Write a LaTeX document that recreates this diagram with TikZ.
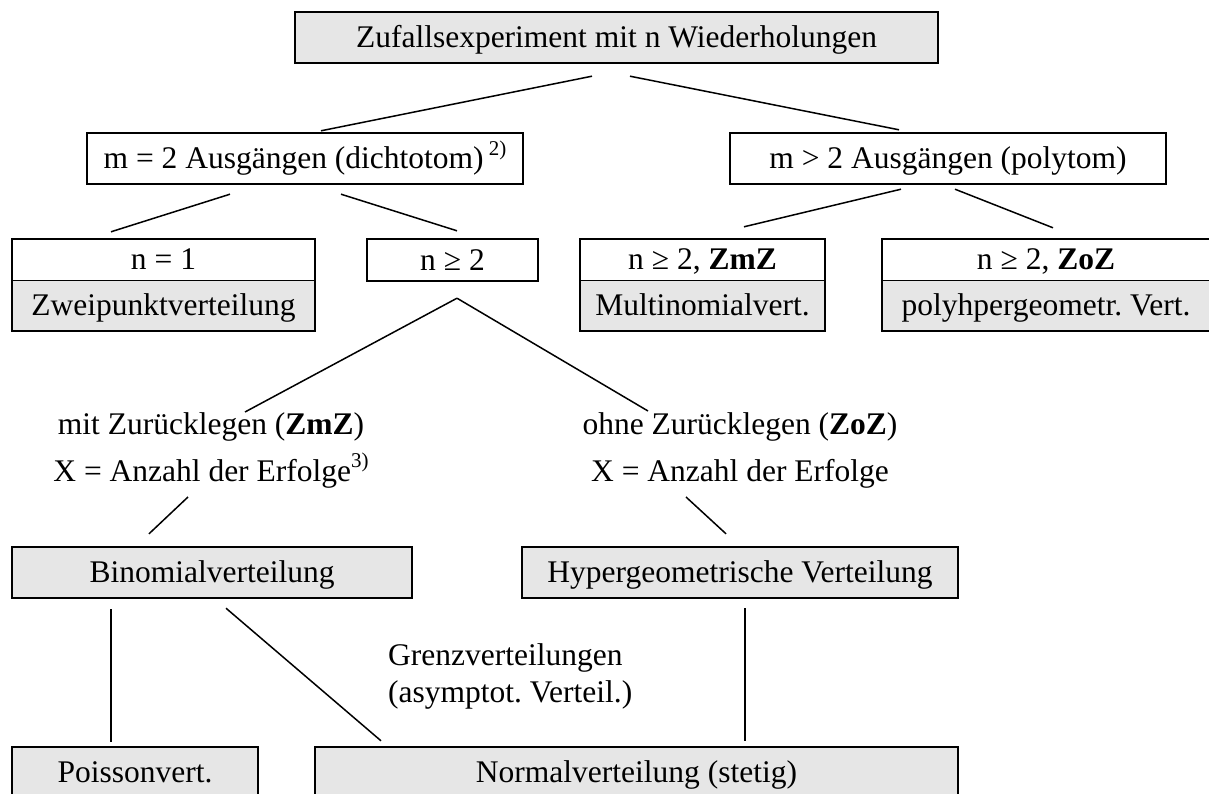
\documentclass[tikz,border=0pt]{standalone}
\usepackage{fontspec}
\setmainfont{Liberation Serif}
\frenchspacing
\definecolor{boxgray}{RGB}{230,230,230}
\tikzset{
  txt/.style={font=\fontsize{31.5}{37}\selectfont, inner sep=0pt, text height=20.9pt, text depth=0pt},
  boxw/.style={txt, draw=black, line width=2.4pt, fill=white, minimum height=#1},
  boxw/.default=51pt,
  boxg/.style={txt, draw=black, line width=2.4pt, fill=boxgray, minimum height=#1},
  boxg/.default=51pt,
  partw/.style={txt, fill=white, minimum height=41pt},
  partg/.style={txt, fill=boxgray, minimum height=51pt},
  frame/.style={draw=black, line width=2.4pt},
  divider/.style={draw=black, line width=1.3pt},
  conn/.style={draw=black, line width=1.5pt},
  label/.style={font=\fontsize{31.5}{37}\selectfont, inner sep=0pt, align=center}
}
\newcommand{\supx}[1]{\raisebox{0.42em}{\fontsize{21}{24}\selectfont #1}}
\begin{document}
\begin{tikzpicture}[x=1pt,y=-1pt]
\useasboundingbox (0,0) rectangle (1209,794);
\fill[white] (0,0) rectangle (1209,794);
\clip (0,0) rectangle (1209,794);

% level 0
\node[boxg, minimum width=643pt] (top) at (616.5,37.5) {Zufallsexperiment mit n Wiederholungen};

% level 1
\node[boxw, minimum width=436pt] (m2) at (305,158.5) {m = 2 Ausgängen (dichtotom)\,\supx{2)}};
\node[boxw, minimum width=436pt] (mg) at (948,158.5) {m > 2 Ausgängen (polytom)};

% level 2
\node[partw, minimum width=303pt] (n1a) at (163.5,259.5) {n = 1};
\node[partg, minimum width=303pt] (n1b) at (163.5,305.5) {Zweipunktverteilung};
\draw[frame] (n1a.north west) rectangle (n1b.south east);
\draw[divider] (n1a.south west) -- (n1a.south east);

\node[boxw=42pt, minimum width=171pt] (n2) at (452.5,260) {n ≥ 2};

\node[partw, minimum width=245pt] (multa) at (702.5,259.5) {n ≥ 2, \textbf{ZmZ}};
\node[partg, minimum width=245pt] (multb) at (702.5,305.5) {Multinomialvert.};
\draw[frame] (multa.north west) rectangle (multb.south east);
\draw[divider] (multa.south west) -- (multa.south east);

\node[partw, minimum width=328pt] (polya) at (1046,259.5) {n ≥ 2, \textbf{ZoZ}};
\node[partg, minimum width=328pt] (polyb) at (1046,305.5) {polyhpergeometr. Vert.};
\draw[frame] (polya.north west) rectangle (polyb.south east);
\draw[divider] (polya.south west) -- (polya.south east);

% labels
\node[label] (mit) at (211,450) {mit Zurücklegen (\textbf{ZmZ})\\[10pt] X = Anzahl der Erfolge\supx{3)}};
\node[label] (ohne) at (740,450) {ohne Zurücklegen (\textbf{ZoZ})\\[10pt] X = Anzahl der Erfolge};

% level 3
\node[boxg, minimum width=400pt] (binom) at (212,572.5) {Binomialverteilung};
\node[boxg, minimum width=436pt] (hyper) at (740,572.5) {Hypergeometrische Verteilung};

\node[label, align=left, anchor=west] (grenz) at (388,676) {Grenzverteilungen\\(asymptot. Verteil.)};

% level 4
\node[boxg, minimum width=246pt] (pois) at (135,772.5) {Poissonvert.};
\node[boxg, minimum width=643pt] (norm) at (636.5,772.5) {Normalverteilung (stetig)};

% connectors
\draw[conn] ([shift={(-24.5,12)}]top.south) -- ([shift={(16,-1)}]m2.north);
\draw[conn] ([shift={(13.5,12)}]top.south) -- ([shift={(-49,-2)}]mg.north);
\draw[conn] ([shift={(-75,9)}]m2.south) -- ([shift={(-52.5,-7)}]n1a.north);
\draw[conn] ([shift={(36,9)}]m2.south) -- ([shift={(4.5,-7)}]n2.north);
\draw[conn] ([shift={(-47,4)}]mg.south) -- ([shift={(41.5,-12)}]multa.north);
\draw[conn] ([shift={(7,4)}]mg.south) -- ([shift={(7,-11)}]polya.north);
\draw[conn] ([shift={(4.5,16)}]n2.south) -- ([shift={(34,-38)}]mit.center);
\draw[conn] ([shift={(4.5,16)}]n2.south) -- ([shift={(-92,-39)}]ohne.center);
\draw[conn] ([shift={(-23,47)}]mit.center) -- ([shift={(-63,-12)}]binom.north);
\draw[conn] ([shift={(-54,47)}]ohne.center) -- ([shift={(-14,-12)}]hyper.north);
\draw[conn] ([shift={(-101,10)}]binom.south) -- ([shift={(-24,-4)}]pois.north);
\draw[conn] ([shift={(14,9)}]binom.south) -- ([shift={(-255.5,-5)}]norm.north);
\draw[conn] ([shift={(5,9)}]hyper.south) -- ([shift={(108.5,-5)}]norm.north);
\end{tikzpicture}
\end{document}
